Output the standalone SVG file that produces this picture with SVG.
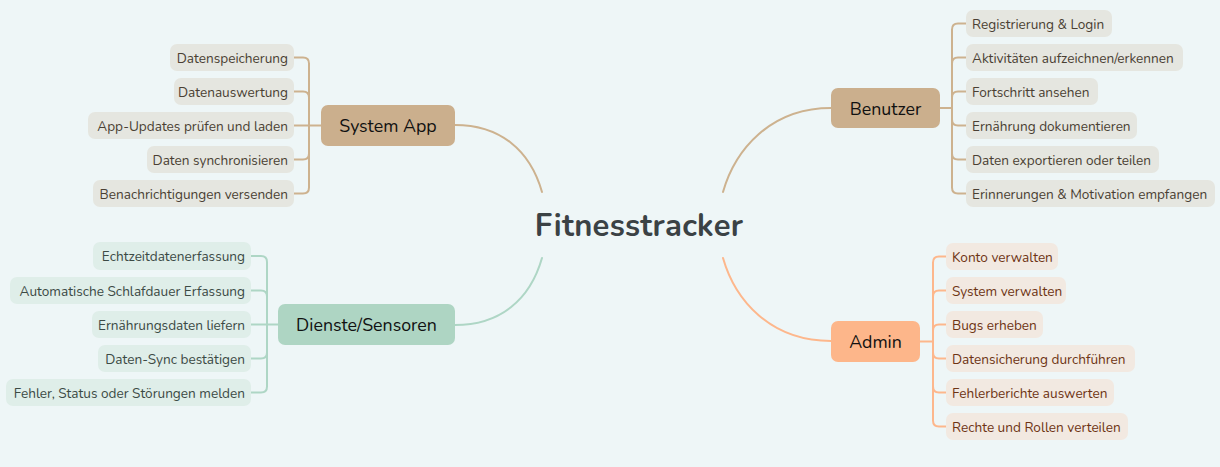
<svg xmlns="http://www.w3.org/2000/svg" width="1220" height="467" viewBox="0 0 1220 467">
<style>
text{font-family:"Nunito","Noto Sans","Open Sans",sans-serif}
.c{font-size:13.6px}
.n{font-size:17.8px;fill:#111}
.ln{fill:none;stroke-width:2;stroke-linecap:round}
.tan{stroke:#CDB28F}
.grn{stroke:#AED6C5}
.org{stroke:#FDB78C}
.ct{fill:#E5E6E0}
.cg{fill:#DFEEE9}
.co{fill:#F2E9E1}
.tt{fill:#4A3F33}
.tg{fill:#3C4A45}
.to{fill:#6E3414}
</style>
<rect width="1220" height="467" fill="#EEF6F7"/>
<g id="connectors">
<path class="ln tan" d="M455,125 C500,125 530,150 542,192"/>
<path class="ln tan" d="M723,192 C735,150 770,108 831,108"/>
<path class="ln grn" d="M455,325 C500,325 530,300 542,258"/>
<path class="ln org" d="M723,258 C735,300 770,341 831,341"/>
<g class="ln tan">
<path d="M321,125.5 H309"/>
<path d="M294,57.5 H303 Q309,57.5 309,63.5 V187.5 Q309,193.5 303,193.5 H294"/>
<path d="M294,91.5 H303 Q309,91.5 309,97.5"/>
<path d="M294,125.5 H309"/>
<path d="M294,159.5 H303 Q309,159.5 309,153.5"/>
</g>
<g class="ln tan">
<path d="M940,108 H952"/>
<path d="M966,23.5 H958 Q952,23.5 952,29.5 V187.5 Q952,193.5 958,193.5 H966"/>
<path d="M966,57.5 H958 Q952,57.5 952,63.5"/>
<path d="M966,91.5 H958 Q952,91.5 952,97.5"/>
<path d="M966,125.5 H958 Q952,125.5 952,119.5"/>
<path d="M966,159.5 H958 Q952,159.5 952,153.5"/>
</g>
<g class="ln grn">
<path d="M278,324.5 H267"/>
<path d="M251,256 H261 Q267,256 267,262 V386.5 Q267,392.5 261,392.5 H251"/>
<path d="M251,290.5 H261 Q267,290.5 267,296.5"/>
<path d="M251,324.5 H267"/>
<path d="M251,358.5 H261 Q267,358.5 267,352.5"/>
</g>
<g class="ln org">
<path d="M920,341.5 H933"/>
<path d="M946,256.5 H939 Q933,256.5 933,262.5 V420.5 Q933,426.5 939,426.5 H946"/>
<path d="M946,290.5 H939 Q933,290.5 933,296.5"/>
<path d="M946,324.5 H939 Q933,324.5 933,330.5"/>
<path d="M946,358.5 H939 Q933,358.5 933,352.5"/>
<path d="M946,392.5 H939 Q933,392.5 933,386.5"/>
</g>
</g>
<g id="root"><text x="639" y="236" text-anchor="middle" font-size="31" font-weight="bold" letter-spacing="0.3" fill="#3B4245">Fitnesstracker</text></g>

<g id="systemapp"><rect x="321" y="105" width="134" height="41" rx="7" fill="#CBAF8D"/><text class="n" x="388" y="132" text-anchor="middle">System App</text></g>
<g id="benutzer"><rect x="831" y="88" width="109" height="40" rx="7" fill="#CBAF8D"/><text class="n" x="885.5" y="114.5" text-anchor="middle">Benutzer</text></g>
<g id="dienste"><rect x="278" y="304" width="177" height="41" rx="7" fill="#AED5C3"/><text class="n" x="366.5" y="331" text-anchor="middle">Dienste/Sensoren</text></g>
<g id="admin"><rect x="831" y="321" width="89" height="41" rx="7" fill="#FDB68A"/><text class="n" x="875.5" y="348" text-anchor="middle">Admin</text></g>

<g id="sa1"><rect class="ct" x="170" y="44" width="124" height="27" rx="7"/><text class="c tt" x="288" y="62.5" text-anchor="end">Datenspeicherung</text></g>
<g id="sa2"><rect class="ct" x="174" y="78" width="120" height="27" rx="7"/><text class="c tt" x="288" y="96.5" text-anchor="end">Datenauswertung</text></g>
<g id="sa3"><rect class="ct" x="88" y="112" width="206" height="27" rx="7"/><text class="c tt" x="288" y="130.5" text-anchor="end">App-Updates prüfen und laden</text></g>
<g id="sa4"><rect class="ct" x="147" y="146" width="147" height="27" rx="7"/><text class="c tt" x="288" y="164.5" text-anchor="end">Daten synchronisieren</text></g>
<g id="sa5"><rect class="ct" x="93" y="180" width="201" height="27" rx="7"/><text class="c tt" x="288" y="198.5" text-anchor="end">Benachrichtigungen versenden</text></g>

<g id="b1"><rect class="ct" x="966" y="10" width="146" height="27" rx="7"/><text class="c tt" x="972" y="28.5">Registrierung &amp; Login</text></g>
<g id="b2"><rect class="ct" x="966" y="44" width="217" height="27" rx="7"/><text class="c tt" x="972" y="62.5">Aktivitäten aufzeichnen/erkennen</text></g>
<g id="b3"><rect class="ct" x="966" y="78" width="132" height="27" rx="7"/><text class="c tt" x="972" y="96.5">Fortschritt ansehen</text></g>
<g id="b4"><rect class="ct" x="966" y="112" width="171" height="27" rx="7"/><text class="c tt" x="972" y="130.5">Ernährung dokumentieren</text></g>
<g id="b5"><rect class="ct" x="966" y="146" width="193" height="27" rx="7"/><text class="c tt" x="972" y="164.5">Daten exportieren oder teilen</text></g>
<g id="b6"><rect class="ct" x="966" y="180" width="249" height="27" rx="7"/><text class="c tt" x="972" y="198.5">Erinnerungen &amp; Motivation empfangen</text></g>

<g id="d1"><rect class="cg" x="93" y="242" width="158" height="28" rx="7"/><text class="c tg" x="245" y="261" text-anchor="end">Echtzeitdatenerfassung</text></g>
<g id="d2"><rect class="cg" x="10" y="277" width="241" height="27" rx="7"/><text class="c tg" x="245" y="295.5" text-anchor="end">Automatische Schlafdauer Erfassung</text></g>
<g id="d3"><rect class="cg" x="92" y="311" width="159" height="27" rx="7"/><text class="c tg" x="245" y="329.5" text-anchor="end">Ernährungsdaten liefern</text></g>
<g id="d4"><rect class="cg" x="98" y="345" width="153" height="27" rx="7"/><text class="c tg" x="245" y="363.5" text-anchor="end">Daten-Sync bestätigen</text></g>
<g id="d5"><rect class="cg" x="6" y="379" width="245" height="27" rx="7"/><text class="c tg" x="245" y="397.5" text-anchor="end">Fehler, Status oder Störungen melden</text></g>

<g id="a1"><rect class="co" x="946" y="243" width="112" height="27" rx="7"/><text class="c to" x="952" y="261.5">Konto verwalten</text></g>
<g id="a2"><rect class="co" x="946" y="277" width="120" height="27" rx="7"/><text class="c to" x="952" y="295.5">System verwalten</text></g>
<g id="a3"><rect class="co" x="946" y="311" width="97" height="27" rx="7"/><text class="c to" x="952" y="329.5">Bugs erheben</text></g>
<g id="a4"><rect class="co" x="946" y="345" width="189" height="27" rx="7"/><text class="c to" x="952" y="363.5">Datensicherung durchführen</text></g>
<g id="a5"><rect class="co" x="946" y="379" width="168" height="27" rx="7"/><text class="c to" x="952" y="397.5">Fehlerberichte auswerten</text></g>
<g id="a6"><rect class="co" x="946" y="413" width="182" height="27" rx="7"/><text class="c to" x="952" y="431.5">Rechte und Rollen verteilen</text></g>
</svg>
